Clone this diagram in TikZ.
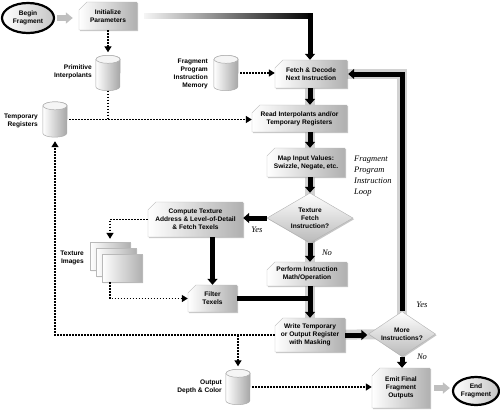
\documentclass[tikz,border=0pt]{standalone}
\usepackage{fontspec}
\newfontfamily\boxfont{Liberation Sans}
\newfontfamily\notefont{Liberation Serif}
\usepackage{tikz}
\usetikzlibrary{arrows.meta, calc, shapes.geometric, shapes.misc, shadows}
\pgfdeclarelayer{background}
\pgfsetlayers{background,main}

\begin{document}
\begin{tikzpicture}[x=1pt, y=-1pt,
    txt/.style={font=\boxfont\bfseries\fontsize{6.6}{8.2}\selectfont, align=center, inner sep=0pt},
    stage/.style={txt, chamfered rectangle, chamfered rectangle corners=north west,
        chamfered rectangle xsep=5pt, draw=gray!55, line width=0.4pt,
        left color=white, right color=gray!62,
        drop shadow={shadow xshift=1.2pt, shadow yshift=-1.2pt, opacity=.45}},
    page/.style={stage, minimum width=40pt, minimum height=28pt},
    test/.style={txt, diamond, aspect=1.7, draw=gray!60, line width=0.4pt,
        top color=white, bottom color=gray!55,
        drop shadow={shadow xshift=1.2pt, shadow yshift=-1.2pt, opacity=.45}},
    store/.style={minimum width=24pt, minimum height=35pt, inner sep=0pt},
    term/.style={txt, ellipse, draw=black, line width=2.2pt, left color=white, right color=gray!45},
    lbl/.style={txt, align=right, anchor=east},
    note/.style={font=\notefont\itshape\fontsize{8.5}{10.8}\selectfont, align=left, inner sep=0pt},
    flow/.style={line width=5pt, -{Triangle[width=10pt,length=6pt]}},
    dots/.style={line width=1.3pt, dash pattern=on 1.5pt off 1.5pt, -{Triangle[width=7pt,length=6pt]}},
    band/.style={line width=10pt, gray!35},
    feed/.style={line width=6pt, gray!50, -{Triangle[width=11pt,length=7pt]}}]
    \useasboundingbox (0,0) rectangle (500,413);
    \coordinate (col) at (310,0);

    % 起始
    \node[term, minimum width=52pt, minimum height=30pt] (begin) at (28,18) {Begin\\Fragment};
    \node[stage, minimum width=58pt, minimum height=28pt] (init) at (108,16) {Initialize\\Parameters};

    % 存储
    \node[store] (prim) at (108,73) {};
    \node[lbl] (primlbl) at (92,72) {Primitive\\Interpolants};
    \node[store] (temp) at (55,119.5) {};
    \node[lbl] (templbl) at (38,121) {Temporary\\Registers};
    \node[store] (mem) at (226,73) {};
    \node[lbl] (memlbl) at (208,74) {Fragment\\Program\\Instruction\\Memory};
    \node[store] (out) at (238,387) {};
    \node[lbl] (outlbl) at (222,387) {Output\\Depth \& Color};
    \foreach \c in {prim, temp, mem, out} {
        \shade[left color=white, right color=gray!70, draw=gray!65, line width=0.5pt]
            ($(\c.north west)+(0,4)$) -- ($(\c.south west)+(0,-4)$)
            arc[start angle=180, end angle=360, x radius=12pt, y radius=4pt]
            -- ($(\c.north east)+(0,4)$)
            arc[start angle=0, end angle=180, x radius=12pt, y radius=4pt] -- cycle;
        \draw[gray!65, line width=0.5pt, fill=gray!8] ($(\c.north)+(0,4)$) ellipse[x radius=12pt, y radius=4pt];
    }

    % 主流程
    \node[stage, minimum width=72pt, minimum height=28pt] (fetch) at (311,74) {Fetch \& Decode\\Next Instruction};
    \node[stage, minimum width=95pt, minimum height=27pt] (read) at (299.5,118.5) {Read Interpolants and/or\\Temporary Registers};
    \node[stage, minimum width=78pt, minimum height=29pt] (map) at (306,162.5) {Map Input Values:\\Swizzle, Negate, etc.};
    \node[test, minimum width=86pt, minimum height=50pt] (tfetch) at (310,218) {Texture\\Fetch\\Instruction?};
    \node[stage, minimum width=80pt, minimum height=24pt] (perform) at (307,274) {Perform Instruction\\Math/Operation};
    \node[stage, minimum width=70pt, minimum height=34pt] (write) at (310,335) {Write Temporary\\or Output Register\\with Masking};
    \node[test, minimum width=67pt, minimum height=45pt] (more) at (402,334) {More\\Instructions?};
    \node[stage, minimum width=58pt, minimum height=40pt] (emit) at (401,388) {Emit Final\\Fragment\\Outputs};
    \node[term, minimum width=46pt, minimum height=28pt] (finish) at (476,391) {End\\Fragment};
    \node[note, anchor=north west] (loopnote) at (354,156) {Fragment\\Program\\Instruction\\Loop};

    % 纹理
    \node[stage, minimum width=95pt, minimum height=35pt] (compute) at (195.5,219.5) {Compute Texture\\Address \& Level-of-Detail\\\& Fetch Texels};
    \node[page] (texA) at (110,256) {};
    \node[page] (texB) at (116,262) {};
    \node[page] (texC) at (122,268) {};
    \node[lbl] (texlbl) at (84,258) {Texture\\Images};
    \node[stage, minimum width=49pt, minimum height=27pt] (filter) at (212.5,298.5) {Filter\\Texels};

    % Yes / No
    \node[note] (yes1) at (257,230) {Yes};
    \node[note] (no1) at (327,253) {No};
    \node[note] (yes2) at (422,305) {Yes};
    \node[note] (no2) at (422,357) {No};

    % 粗箭头
    \draw[feed, shorten <=2pt, shorten >=6pt] (begin.east) -- (begin.east -| init.west);
    \coordinate (topbend) at (310,15.5);
    \shade[left color=gray!8, right color=black] ($(init.east)+(7,-3)$) rectangle ($(topbend)+(2.5,3)$);
    \draw[flow] ($(topbend)+(0,-2.5)$) -- (topbend |- fetch.north);
    \draw[flow] (fetch.south -| col) -- (read.north -| col);
    \draw[flow] (read.south -| col) -- (map.north -| col);
    \draw[flow] (map.south -| col) -- (tfetch.north);
    \draw[flow] (tfetch.south) -- (perform.north -| col);
    \draw[flow] (perform.south -| col) -- (write.north);
    \draw[flow] (tfetch.west) -- (compute.east |- tfetch.west);
    \draw[flow] (compute.south -| filter.north) -- (filter.north);
    \draw[line width=5pt] (filter.east) -- (filter.east -| col);
    \draw[flow, shorten >=1pt] (write.east) -- (more.west |- write.east);
    \draw[flow] (more.south) -- (emit.north -| more.south);
    \draw[flow, shorten >=1pt] (more.north) -- (more.north |- fetch.east) -- (fetch.east);
    \draw[feed, shorten <=4pt, shorten >=2pt] (emit.east) -- (finish.west |- emit.east);

    % 虚线
    \draw[dots, shorten >=3pt] (init.south) -- (prim.north);
    \draw[dots, -] (prim.south) -- (prim.south |- temp.east);
    \draw[dots, shorten <=2pt] (temp.east) -- (read.west |- temp.east);
    \draw[dots, shorten <=2pt] (mem.east) -- (fetch.west |- mem.east);
    \draw[dots, shorten >=4pt] (write.west) -- (temp.south |- write.west) -- (temp.south);
    \draw[dots, shorten >=3pt] (out.north |- write.west) -- (out.north);
    \draw[dots, shorten <=2pt] (out.east) -- (emit.west |- out.east);
    \draw[dots, shorten >=3pt] (compute.west) -| (texA.north);
    \draw[dots] (texC.south -| texA.south) |- (filter.west);

    % 灰带
    \begin{pgfonlayer}{background}
        \draw[band] (fetch.center -| col) -- (write.center);
        \draw[band] (write.center) -- (more.center);
        \draw[band] (more.center) -- (more.center |- fetch.east) -- (fetch.center);
    \end{pgfonlayer}
\end{tikzpicture}
\end{document}
